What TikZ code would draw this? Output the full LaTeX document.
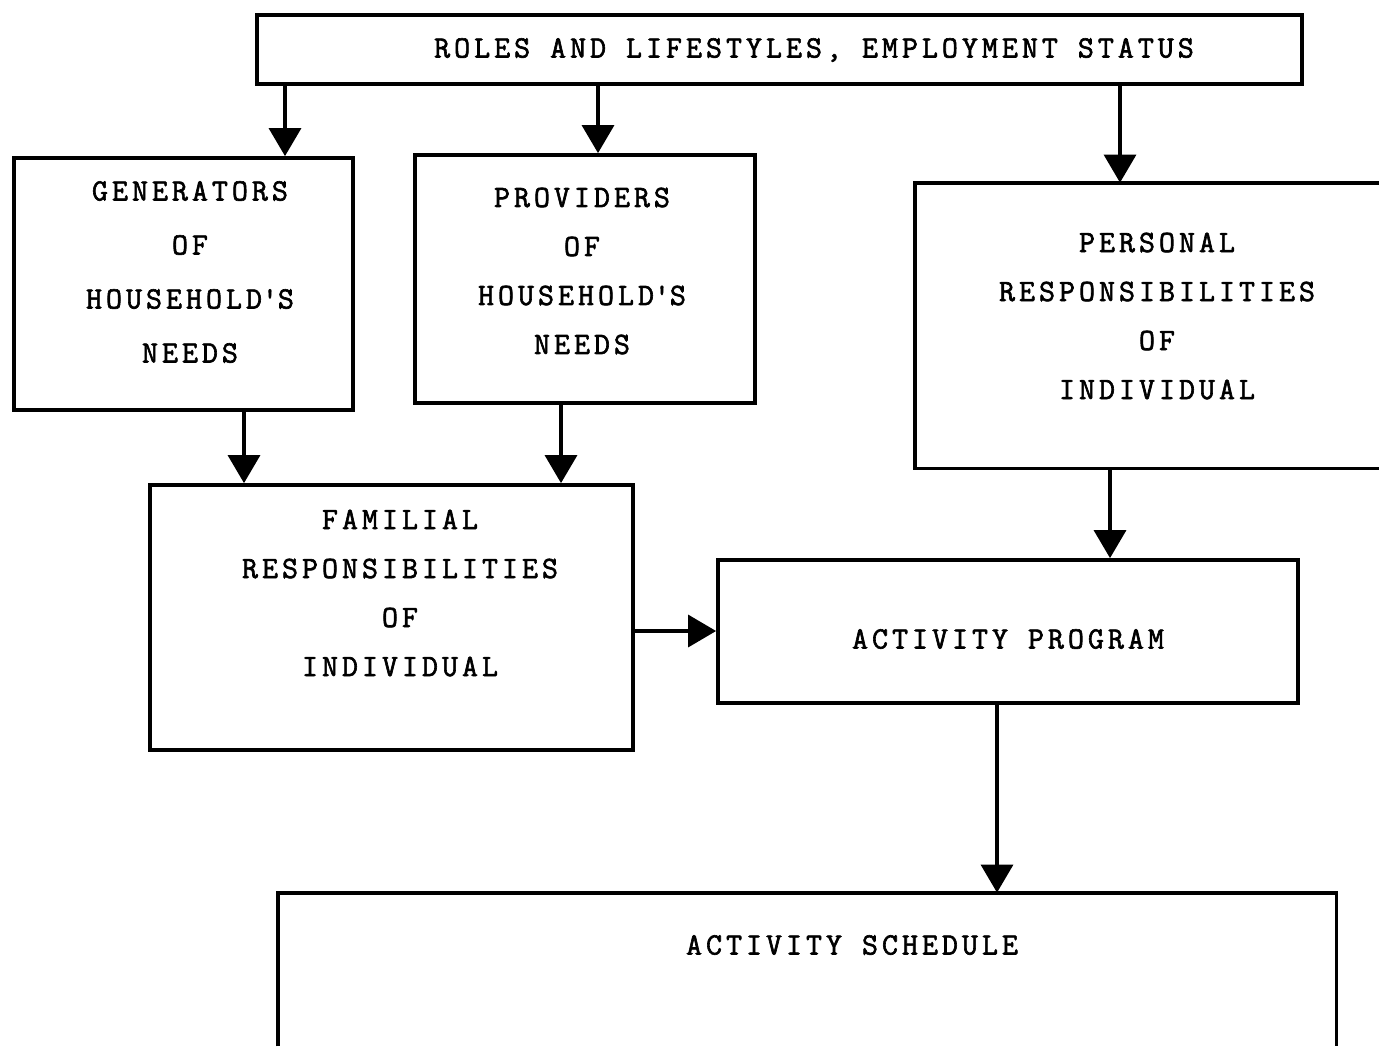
\documentclass[tikz,border=0pt]{standalone}
\usepackage{fontspec}
\newfontfamily\tw[LetterSpace=13, FakeBold=2]{Latin Modern Mono}
\usetikzlibrary{arrows.meta,fit}

\tikzset{
  box/.style={draw, rectangle, line width=1.9pt, inner sep=0pt},
  openbox/.style={rectangle, inner sep=0pt},
  edge/.style={line width=1.9pt},
  arr/.style={line width=1.7pt, -{Triangle[width=16pt,length=14pt]}},
  lbl/.style={align=center, inner sep=0pt,
    font=\tw\fontsize{15.5pt}{24.5pt}\selectfont},
}

\begin{document}
\begin{tikzpicture}[x=0.5pt, y=-0.5pt]
\useasboundingbox (0,0) rectangle (1379,1046);
\fill[white] (0,0) rectangle (1379,1046);

% boxes
\node[box, fit={(257,15) (1302,84)}] (top) {};
\node[box, fit={(14,158) (353,410)}] (gen) {};
\node[box, fit={(415,155) (755,403)}] (prov) {};
\node[openbox, fit={(915,183) (1379,468)}] (pers) {};
\node[box, fit={(150,485) (633,750)}] (fam) {};
\node[box, fit={(718,560) (1298,703)}] (prog) {};
\node[openbox, fit={(278,893) (1336,1046)}] (sched) {};

% open outlines
\draw[edge] (pers.north east) -- (pers.north west) -- (pers.south west) -- (pers.south east);
\draw[edge] (sched.south west) -- (sched.north west) -- (sched.north east) -- (sched.south east);

% texts
\node[lbl] (top-t) at (814,50) {ROLES AND LIFESTYLES, EMPLOYMENT STATUS};
\node[lbl, font=\tw\fontsize{15.5pt}{27pt}\selectfont] (gen-t) at (190,272)
  {GENERATORS\\OF\\HOUSEHOLD\textquotesingle S\\NEEDS};
\node[lbl] (prov-t) at (582,271) {PROVIDERS\\OF\\HOUSEHOLD\textquotesingle S\\NEEDS};
\node[lbl] (pers-t) at (1157,316) {PERSONAL\\RESPONSIBILITIES\\OF\\INDIVIDUAL};
\node[lbl] (fam-t) at (400,593) {FAMILIAL\\RESPONSIBILITIES\\OF\\INDIVIDUAL};
\node[lbl] (prog-t) at (1008,639) {ACTIVITY PROGRAM};
\node[lbl] (sched-t) at (852,945) {ACTIVITY SCHEDULE};

% connector positions
\coordinate (x1) at (285,0);
\coordinate (x2) at (598,0);
\coordinate (x3) at (1120,0);
\coordinate (x4) at (244,0);
\coordinate (x5) at (561,0);
\coordinate (x6) at (1110,0);
\coordinate (y7) at (0,631);
\coordinate (x8) at (997,0);

% connectors
\draw[arr] (top.south -| x1) -- (gen.north -| x1);
\draw[arr] (top.south -| x2) -- (prov.north -| x2);
\draw[arr] (top.south -| x3) -- (pers.north -| x3);
\draw[arr] (gen.south -| x4) -- (fam.north -| x4);
\draw[arr] (prov.south -| x5) -- (fam.north -| x5);
\draw[arr] (pers.south -| x6) -- (prog.north -| x6);
\draw[arr] (fam.east |- y7) -- (prog.west |- y7);
\draw[arr] (prog.south -| x8) -- (sched.north -| x8);
\end{tikzpicture}
\end{document}
